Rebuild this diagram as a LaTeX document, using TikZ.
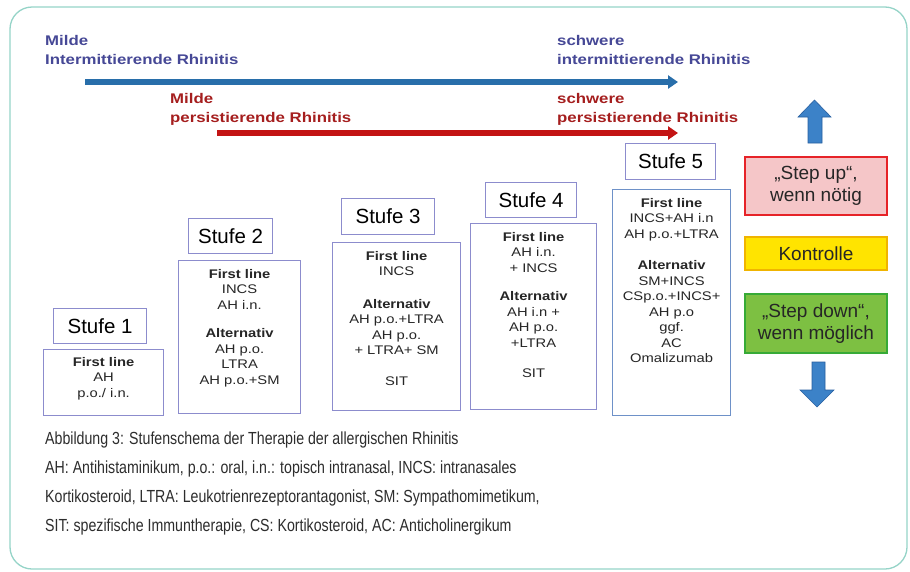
\documentclass[tikz,border=0pt]{standalone}
\usepackage{fontspec}
\setmainfont{Liberation Sans}
\newfontfamily\capfont[FakeStretch=0.81]{Liberation Sans}
\newfontfamily\boxfont[FakeStretch=1.18]{Liberation Sans}
\newfontfamily\topfont[FakeStretch=1.2]{Liberation Sans}
\usetikzlibrary{arrows.meta}
\definecolor{framec}{RGB}{150,212,200}
\definecolor{boxc}{RGB}{140,140,205}
\definecolor{box5c}{RGB}{110,145,200}
\definecolor{bluetxt}{RGB}{70,72,150}
\definecolor{redtxt}{RGB}{165,30,30}
\definecolor{bluearr}{RGB}{40,110,170}
\definecolor{redarr}{RGB}{195,20,20}
\definecolor{uparr}{RGB}{60,130,200}
\definecolor{uparrd}{RGB}{40,95,160}
\definecolor{upfill}{RGB}{245,198,200}
\definecolor{upborder}{RGB}{230,35,40}
\definecolor{kfill}{RGB}{255,228,0}
\definecolor{kborder}{RGB}{240,180,0}
\definecolor{dfill}{RGB}{125,192,66}
\definecolor{dborder}{RGB}{55,170,55}
\definecolor{captc}{RGB}{45,45,45}
\tikzset{
  lbl/.style={draw=boxc, line width=1.2pt, fill=white, font=\fontsize{20.5}{22}\selectfont, inner sep=0pt, anchor=north west},
  cbox/.style={draw=boxc, line width=1.2pt, fill=white, inner sep=0pt, anchor=north west},
  ctext/.style={font=\boxfont\fontsize{12.5}{15.5}\selectfont, align=center, inner sep=0pt, anchor=north, text=black!85},
  sidebox/.style={line width=2pt, inner sep=0pt, anchor=north west, minimum width=142pt, align=center, font=\fontsize{19}{22}\selectfont, text=black!85},
  toptxt/.style={font=\topfont\bfseries\fontsize{14}{19}\selectfont, align=left, inner sep=0pt, anchor=north west},
  rarrow/.style={line width=5.5pt, -{Triangle[length=10pt,width=13pt]}},
}
\begin{document}
\begin{tikzpicture}[x=1pt,y=-1pt]
\useasboundingbox (0,0) rectangle (910,571);
\fill[white] (0,0) rectangle (910,571);
\draw[framec, line width=1.3pt, rounded corners=22pt] (10,7) rectangle (907,569);

% top labels
\node[toptxt, text=bluetxt] (mi) at (45,35) {Milde\\Intermittierende Rhinitis};
\node[toptxt, text=bluetxt] (si) at (557,35) {schwere\\intermittierende Rhinitis};
\node[toptxt, text=redtxt] (mp) at (170,93) {Milde\\persistierende Rhinitis};
\node[toptxt, text=redtxt] (sp) at (557,93) {schwere\\persistierende Rhinitis};

\coordinate (b0) at (85,82);
\coordinate (b1) at (678,82);
\coordinate (r0) at (217,133);
\coordinate (r1) at (678,133);
\draw[rarrow, bluearr] (b0) -- (b1);
\draw[rarrow, redarr] (r0) -- (r1);

% stage labels
\node[lbl, minimum width=93pt, minimum height=35pt] (l1) at (53,308) {Stufe 1};
\node[lbl, minimum width=84pt, minimum height=35pt] (l2) at (188,218) {Stufe 2};
\node[lbl, minimum width=93pt, minimum height=36pt] (l3) at (341,198) {Stufe 3};
\node[lbl, minimum width=91pt, minimum height=35pt] (l4) at (485,182) {Stufe 4};
\node[lbl, minimum width=90pt, minimum height=36pt] (l5) at (625,143) {Stufe 5};

% content boxes
\node[cbox, minimum width=120pt, minimum height=66pt] (c1) at (43,349) {};
\node[cbox, minimum width=122pt, minimum height=153pt] (c2) at (178,260) {};
\node[cbox, minimum width=128pt, minimum height=168pt] (c3) at (332,242) {};
\node[cbox, minimum width=126pt, minimum height=186pt] (c4) at (470,223) {};
\node[cbox, draw=box5c, minimum width=118pt, minimum height=226pt] (c5) at (612,189) {};

\node[ctext] (t1) at ([yshift=-8pt]c1.north) {\textbf{First line}\\AH\\p.o./ i.n.};
\node[ctext] (t2) at ([yshift=-9pt]c2.north) {\textbf{First line}\\INCS\\AH i.n.\\[13pt]\textbf{Alternativ}\\AH p.o.\\LTRA\\AH p.o.+SM};
\node[ctext] (t3) at ([yshift=-9pt]c3.north) {\textbf{First line}\\INCS\\[17pt]\textbf{Alternativ}\\AH p.o.+LTRA\\AH p.o.\\+ LTRA+ SM\\[15pt]SIT};
\node[ctext] (t4) at ([yshift=-9pt]c4.north) {\textbf{First line}\\AH i.n.\\+ INCS\\[13pt]\textbf{Alternativ}\\AH i.n +\\AH p.o.\\+LTRA\\[15pt]SIT};
\node[ctext] (t5) at ([yshift=-9pt]c5.north) {\textbf{First line}\\INCS+AH i.n\\AH p.o.+LTRA\\[16pt]\textbf{Alternativ}\\SM+INCS\\CSp.o.+INCS+\\AH p.o\\ggf.\\AC\\Omalizumab};

% side boxes
\node[sidebox, draw=upborder, fill=upfill, minimum height=58pt] (up) at (744,156) {„Step up“,\\wenn nötig};
\node[sidebox, draw=kborder, fill=kfill, minimum height=33pt] (ko) at (744,236) {Kontrolle};
\node[sidebox, draw=dborder, fill=dfill, minimum height=59pt] (dn) at (744,293) {„Step down“,\\wenn möglich};

% up / down arrows
\filldraw[fill=uparr, draw=uparrd, line width=0.6pt] (808,143) -- (808,117) -- (798,117) -- (814.5,100) -- (831,117) -- (822,117) -- (822,143) -- cycle;
\filldraw[fill=uparr, draw=uparrd, line width=0.6pt] (812,362) -- (812,390) -- (800,390) -- (817,407) -- (834,390) -- (825,390) -- (825,362) -- cycle;

% caption
\node[font=\capfont\fontsize{17.5}{29}\selectfont, text=captc, align=left, inner sep=0pt, anchor=north west] (cap) at (45,432)
{Abbildung 3: Stufenschema der Therapie der allergischen Rhinitis\\
AH: Antihistaminikum, p.o.: oral, i.n.: topisch intranasal, INCS: intranasales\\
Kortikosteroid, LTRA: Leukotrienrezeptorantagonist, SM: Sympathomimetikum,\\
SIT: spezifische Immuntherapie, CS: Kortikosteroid, AC: Anticholinergikum};
\end{tikzpicture}
\end{document}
